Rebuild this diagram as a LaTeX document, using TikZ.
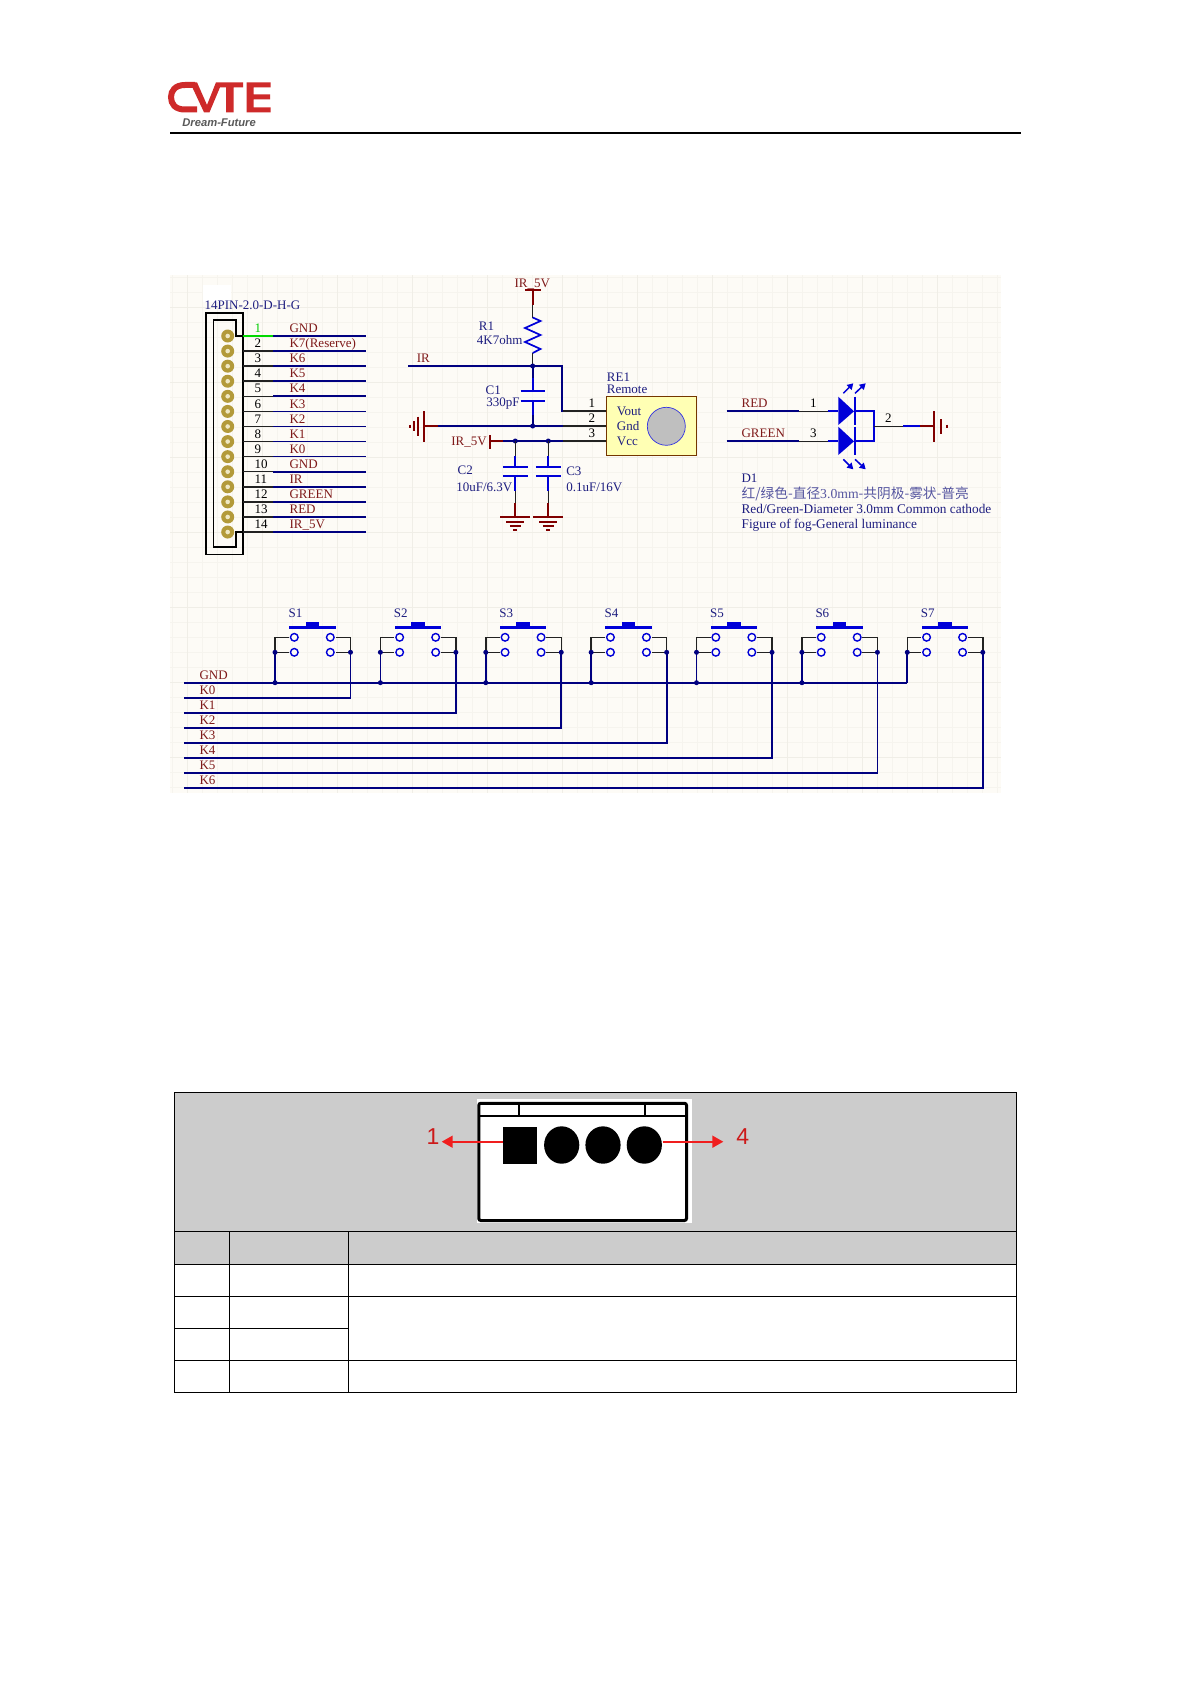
\documentclass[tikz,border=0pt]{standalone}
\usepackage{fontspec}
\usetikzlibrary{arrows.meta}
\setmainfont{Liberation Serif}
\setsansfont{Liberation Sans}
\newfontfamily\cjk{Noto Sans CJK SC}
\definecolor{bgc}{HTML}{FDFBF6}
\definecolor{gridA}{HTML}{F6F4EE}
\definecolor{gridB}{HTML}{F0EEE7}
\definecolor{wirec}{HTML}{000080}
\definecolor{symc}{HTML}{0000D8}
\definecolor{redc}{HTML}{800000}
\definecolor{pinc}{HTML}{222222}
\definecolor{txtnavy}{HTML}{1E1E80}
\definecolor{txtred}{HTML}{7F1A1A}
\definecolor{logored}{HTML}{CE2A2A}
\definecolor{goldc}{HTML}{B39A3A}
\definecolor{holec}{HTML}{EFE8C4}
\definecolor{yelc}{HTML}{FFFFB4}
\definecolor{arrc}{HTML}{F01E1E}
\tikzset{
 x=0.5pt,y=-0.5pt,
 lbl/.style={inner sep=0pt,anchor=west,xshift=-0.4pt,font=\fontsize{6.5}{7}\selectfont,text height=4.2pt,text depth=0pt},
 redtxt/.style={lbl,text=txtred},
 navytxt/.style={lbl,text=txtnavy},
 numtxt/.style={lbl,text=black},
 wire/.style={draw=wirec,line width=0.85pt},
 pinw/.style={draw=pinc,line width=0.75pt},
 sym/.style={draw=symc,line width=0.85pt},
 pwr/.style={draw=redc,line width=0.85pt},
 dot/.style={fill=wirec,draw=none},
 tbl/.style={draw=black,line width=0.5pt},
}
\begin{document}
\begin{tikzpicture}
\useasboundingbox (0,0) rectangle (1192,1685);
\fill[white] (0,0) rectangle (1192,1685);
% logo
\draw[logored,line width=3pt] (195,85) -- (185,85) .. controls (175,85) and (171,91) .. (171,97) .. controls (171,104) and (175,109.5) .. (185,109.5) -- (197,109.5);
\fill[logored] (190,82.3) -- (197,82.3) -- (207,105) -- (216,82.3) -- (243,82.3) -- (243,87.3) -- (233.5,87.3) -- (233.5,112.3) -- (226,112.3) -- (226,87.3) -- (220,87.3) -- (209.5,112.3) -- (204,112.3) -- cycle;
\fill[logored] (246.7,82.3) -- (270.7,82.3) -- (270.7,87.3) -- (253.5,87.3) -- (253.5,94.5) -- (270,94.5) -- (270,99.5) -- (253.5,99.5) -- (253.5,107.3) -- (270.7,107.3) -- (270.7,112.3) -- (246.7,112.3) -- cycle;
\node[inner sep=0pt,anchor=west,text=black!65,font=\sffamily\bfseries\itshape\fontsize{5.6}{6}\selectfont] (tagline) at (182,123) {Dream-Future};
\draw[black,line width=1pt] (170,133) -- (1021,133);
% schematic sheet
\fill[bgc] (170,275) rectangle (1001,793);
\foreach \k in {0,...,55}{\draw[gridA,line width=0.35pt] (172+15*\k,275) -- (172+15*\k,793);}
\foreach \k in {0,...,34}{\draw[gridA,line width=0.35pt] (170,277+15*\k) -- (1001,277+15*\k);}
\foreach \k in {0,...,10}{\draw[gridB,line width=0.35pt] (187+75*\k,275) -- (187+75*\k,793);}
\foreach \k in {0,...,6}{\draw[gridB,line width=0.35pt] (170,307+75*\k) -- (1001,307+75*\k);}
\fill[white] (203,285) rectangle (231,302);
% connector J
\node[navytxt] (jname) at (205,305.7) {14PIN-2.0-D-H-G};
\draw[draw=black,line width=0.8pt] (205.7,312.7) rectangle (242.7,554.3);
\draw[draw=black,line width=0.8pt] (213.3,320) -- (236,320) -- (236,336) -- (242.7,336);
\draw[draw=black,line width=0.8pt] (213.3,320) -- (213.3,546.7) -- (236,546.7) -- (236,531.7) -- (242.7,531.7);
\foreach \i/\t in {1/GND,2/K7(Reserve),3/K6,4/K5,5/K4,6/K3,7/K2,8/K1,9/K0,10/GND,11/IR,12/GREEN,13/RED,14/IR\_5V}{
 \pgfmathsetmacro{\py}{336+15.08*(\i-1)}
 \fill[goldc] (227.7,\py) circle[radius=6.5];
 \fill[holec] (227.7,\py) circle[radius=2.3];
 \ifnum\i=1
  \draw[draw=green!85!black,line width=0.9pt] (242.7,\py) -- (273,\py);
  \node[lbl,text=green!80!black] (pn\i) at (255,\py-7.6) {\i};
 \else
  \draw[pinw] (242.7,\py) -- (273,\py);
  \node[numtxt] (pn\i) at (255,\py-7.6) {\i};
 \fi
 \draw[wire] (273,\py) -- (366,\py);
 \node[redtxt] (pl\i) at (290,\py-7.6) {\t};
}
% R1 and top power
\node[redtxt] (irtop) at (515,283) {IR\_5V};
\draw[pwr] (525,290) -- (541,290);
\draw[pwr] (532.7,290) -- (532.7,305);
\draw[pinw] (532.7,305) -- (532.7,317.5);
\draw[sym,line join=miter] (532.7,317.5) -- (540.5,321) -- (525,328) -- (540.5,335) -- (525,342) -- (540.5,349) -- (532.7,353);
\draw[pinw] (532.7,353) -- (532.7,366);
\node[navytxt] (r1) at (479.3,326.7) {R1};
\node[navytxt] (r1v) at (477.3,340.7) {4K7ohm};
% IR net
\node[redtxt] (irnet) at (417.3,358) {IR};
\draw[wire] (408,366) -- (561.7,366) -- (561.7,411) -- (563,411);
\draw[pinw] (563,411) -- (606.7,411);
\fill[dot] (532.7,366) circle[radius=2.5];
% C1
\draw[wire] (532.7,366) -- (532.7,378);
\draw[sym] (532.7,378) -- (532.7,391);
\draw[sym] (520.7,391) -- (545,391);
\draw[sym] (520.7,400.7) -- (545,400.7);
\draw[sym] (532.7,400.7) -- (532.7,415);
\draw[wire] (532.7,415) -- (532.7,426);
\node[navytxt] (c1) at (486,390) {C1};
\node[navytxt] (c1v) at (486.7,402.7) {330pF};
% GND left
\draw[wire] (438,426) -- (563,426);
\draw[pinw] (563,426) -- (606.7,426);
\draw[pwr] (424,426) -- (438,426);
\draw[pwr] (424,411) -- (424,441.7);
\draw[pwr] (418.3,416.7) -- (418.3,436);
\draw[pwr] (414,421) -- (414,431);
\draw[pwr] (410,424.5) -- (410,427.5);
\fill[dot] (532.7,426) circle[radius=2.5];
% IR_5V left
\node[redtxt] (irleft) at (451.7,441) {IR\_5V};
\draw[pwr] (490,435) -- (490,449);
\draw[pwr] (490,441) -- (503,441);
\draw[wire] (503,441) -- (563,441);
\draw[pinw] (563,441) -- (606.7,441);
\fill[dot] (515.3,441) circle[radius=2.5];
\fill[dot] (548.3,441) circle[radius=2.5];
% C2 C3
\foreach \cx in {515.3,548.3}{
 \draw[pinw] (\cx,441) -- (\cx,456);
 \draw[sym] (\cx,456) -- (\cx,467);
 \draw[sym] (\cx-12.5,467) -- (\cx+12.5,467);
 \draw[sym] (\cx-12.5,476) -- (\cx+12.5,476);
 \draw[sym] (\cx,476) -- (\cx,490.7);
 \draw[pinw] (\cx,490.7) -- (\cx,503);
 \draw[pwr] (\cx,503) -- (\cx,517);
 \draw[pwr] (\cx-15,517) -- (\cx+15,517);
 \draw[pwr] (\cx-9,521.7) -- (\cx+9,521.7);
 \draw[pwr] (\cx-5.5,525.7) -- (\cx+5.5,525.7);
 \draw[pwr] (\cx-2,529.7) -- (\cx+2,529.7);
}
\node[navytxt] (c2) at (458,470) {C2};
\node[navytxt] (c2v) at (456.7,487) {10uF/6.3V};
\node[navytxt] (c3) at (566.7,471) {C3};
\node[navytxt] (c3v) at (566.7,487) {0.1uF/16V};
% RE1
\draw[draw=redc!70!yellow!70!black,fill=yelc,line width=0.5pt] (606.7,396.3) rectangle (696.7,455.3);
\draw[draw=symc!80,fill=black!25,line width=0.35pt] (666.3,426.3) circle[radius=19];
\node[navytxt] (re1) at (607.3,377) {RE1};
\node[navytxt] (re1b) at (607.3,389.3) {Remote};
\node[numtxt] (rp1) at (589,403) {1};
\node[numtxt] (rp2) at (589,418) {2};
\node[numtxt] (rp3) at (589,433) {3};
\node[navytxt] (vout) at (617.3,411.5) {Vout};
\node[navytxt] (gndt) at (617.3,426.5) {Gnd};
\node[navytxt] (vcct) at (617.3,441.5) {Vcc};
% D1
\draw[wire] (726.7,411.3) -- (799,411.3);
\draw[pinw] (799,411.3) -- (827.7,411.3);
\draw[sym] (827.7,411.3) -- (838.3,411.3);
\draw[wire] (726.7,441.3) -- (799,441.3);
\draw[pinw] (799,441.3) -- (827.7,441.3);
\draw[sym] (827.7,441.3) -- (838.3,441.3);
\fill[symc] (838.3,396.7) -- (854,411.3) -- (838.3,425) -- cycle;
\fill[symc] (838.3,426.7) -- (854,441.3) -- (838.3,455) -- cycle;
\draw[sym] (855.3,396.7) -- (855.3,425);
\draw[sym] (855.3,426.7) -- (855.3,455);
\draw[sym] (855.3,411.3) -- (874,411.3) -- (874,441.3) -- (855.3,441.3);
\draw[pinw] (874,426.3) -- (903.3,426.3);
\draw[sym] (903.3,426.3) -- (920,426.3);
\draw[pwr] (920,426.3) -- (934,426.3);
\draw[pwr] (934,411) -- (934,441.7);
\draw[pwr] (941,419) -- (941,434);
\draw[pwr] (947,424.5) -- (947,428);
\foreach \ax/\ay/\bx/\by in {843.3/393.3/853.3/383.3,855/393.3/865.7/383.3,843.3/459.3/853.3/469.3,855/459.3/865.7/469.3}{
 \draw[symc,line width=0.75pt,-{Triangle[length=3pt,width=3.4pt]}] (\ax,\ay) -- (\bx,\by);
}
\node[redtxt] (redn) at (742,403.3) {RED};
\node[redtxt] (greenn) at (742,433.3) {GREEN};
\node[numtxt] (dp1) at (810.5,403) {1};
\node[numtxt] (dp3) at (810.5,433) {3};
\node[numtxt] (dp2) at (885.5,418) {2};
\node[navytxt] (d1) at (742,478.3) {D1};
\node[navytxt,text=txtnavy!75,font=\fontsize{6.85}{7}\selectfont] (d1a) at (742,494) {{\cjk 红/绿色-直径}3.0mm{\cjk -共阴极-雾状-普亮}};
\node[navytxt,font=\fontsize{6.65}{7}\selectfont] (d1b) at (742,509) {Red/Green-Diameter 3.0mm Common cathode};
\node[navytxt,font=\fontsize{6.65}{7}\selectfont] (d1c) at (742,524) {Figure of fog-General luminance};
% bus
\foreach \t/\by in {GND/682.7,K0/697.7,K1/712.7,K2/727.7,K3/743.3,K4/758.3,K5/773,K6/788}{
 \node[redtxt] (bus\t) at (200,\by-7.7) {\t};
}
\draw[wire] (184,682.7) -- (907.3,682.7);
% switches
\foreach \n/\ky in {1/697.7,2/712.7,3/727.7,4/743.3,5/758.3,6/773,7/788}{
 \pgfmathsetmacro{\xl}{275+105.38*(\n-1)}
 \pgfmathsetmacro{\xr}{\xl+75.5}
 \draw[wire] (184,\ky) -- (\xr,\ky) -- (\xr,652.3);
 \draw[wire] (\xl,682.7) -- (\xl,652.3);
 \draw[pinw] (\xl,652.3) -- (\xl,637.3) -- (\xl+14,637.3);
 \draw[pinw] (\xl,652.3) -- (\xl+14,652.3);
 \draw[pinw] (\xr,652.3) -- (\xr,637.3) -- (\xr-15,637.3);
 \draw[pinw] (\xr,652.3) -- (\xr-15,652.3);
 \foreach \cy in {637.3,652.3}{
  \draw[symc,fill=bgc,line width=0.7pt] (\xl+19.3,\cy) circle[radius=3.8];
  \draw[symc,fill=bgc,line width=0.7pt] (\xl+55.3,\cy) circle[radius=3.8];
 }
 \fill[symc] (\xl+14.3,626.2) rectangle (\xl+60.7,629.2);
 \fill[symc] (\xl+30.7,621.7) rectangle (\xl+44.3,627);
 \fill[dot] (\xl,652.3) circle[radius=2.5];
 \fill[dot] (\xr,652.3) circle[radius=2.5];
 \ifnum\n<7 \fill[dot] (\xl,682.7) circle[radius=2.5]; \fi
 \node[navytxt] (sw\n) at (\xl+14,613) {S\n};
}
% table
\fill[black!20] (174.3,1092.7) rectangle (1016.6,1264.3);
\draw[tbl] (174.3,1092.7) rectangle (1016.6,1392.7);
\foreach \ty in {1231.3,1264.3,1296.3,1360.3}{\draw[tbl] (174.3,\ty) -- (1016.6,\ty);}
\draw[tbl] (174.3,1328.3) -- (348.6,1328.3);
\draw[tbl] (229,1231.3) -- (229,1392.7);
\draw[tbl] (348.6,1231.3) -- (348.6,1392.7);
% pinout image
\fill[white] (476.7,1099.3) rectangle (691.7,1222.7);
\draw[black,line width=1.5pt,rounded corners=1pt] (478.8,1103.3) rectangle (686.5,1220.5);
\draw[black,line width=1.3pt] (478.8,1116) -- (686.5,1116);
\draw[black,line width=1.1pt] (519.3,1103.3) -- (519.3,1116);
\draw[black,line width=1.1pt] (645,1103.3) -- (645,1116);
\fill[black] (502.7,1126.7) rectangle (537.3,1164);
\foreach \hx in {561.7,603,644.3}{\fill[black] (\hx,1145) ellipse[x radius=17.6,y radius=18.7];}
\coordinate (pinL) at (502.7,1141.7);
\coordinate (pinLt) at (441.7,1141.7);
\coordinate (pinR) at (662.7,1141.7);
\coordinate (pinRt) at (723.3,1141.7);
\draw[arrc,line width=0.8pt,-{Triangle[length=5.5pt,width=6pt]}] (pinL) -- (pinLt);
\draw[arrc,line width=0.8pt,-{Triangle[length=5.5pt,width=6pt]}] (pinR) -- (pinRt);
\node[inner sep=0pt,text=arrc!85!black,font=\sffamily\fontsize{11.5}{12}\selectfont] (pin1t) at (433,1136.7) {1};
\node[inner sep=0pt,text=arrc!85!black,font=\sffamily\fontsize{11.5}{12}\selectfont] (pin4t) at (742.7,1136.7) {4};
\end{tikzpicture}
\end{document}
